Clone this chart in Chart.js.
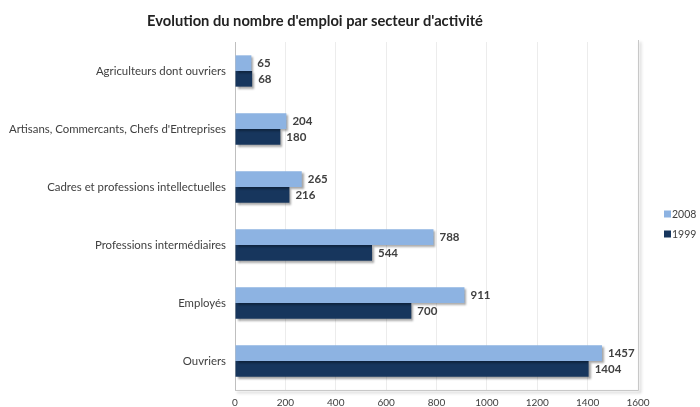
<!DOCTYPE html>
<html>
<head>
<meta charset="utf-8">
<script src="https://cdn.jsdelivr.net/npm/chart.js@4/dist/chart.umd.min.js"></script>
<style>
  html, body { margin: 0; padding: 0; background: #fff; }
  #wrap { width: 700px; height: 407px; position: relative; }
</style>
</head>
<body>
<div id="wrap"><canvas id="emploiChart"></canvas></div>
<script>
// data
const secteurs = [
    'Agriculteurs dont ouvriers',
    'Artisans, Commercants, Chefs d\'Entreprises',
    'Cadres et professions intellectuelles',
    'Professions intermédiaires',
    'Employés',
    'Ouvriers'
];
const emploi2008 = [65, 204, 265, 788, 911, 1457];
const emploi1999 = [68, 180, 216, 544, 700, 1404];
const xTicks = [0, 200, 400, 600, 800, 1000, 1200, 1400, 1600];

const titre = 'Evolution du nombre d\'emploi par secteur d\'activité';
const FONT = 'Lato, "Liberation Sans", sans-serif';
const TEXT_COL = '#404040';

// bar shadows, like the office 3D look
const barShadow = {
    id: 'barShadow',
    beforeDatasetsDraw(chart) {
        const ctx = chart.ctx;
        ctx.save();
        ctx.shadowColor = 'rgba(0,0,0,0.35)';
        ctx.shadowOffsetX = 2;
        ctx.shadowOffsetY = 2;
        ctx.shadowBlur = 2;
    },
    afterDatasetsDraw(chart) {
        chart.ctx.restore();
    }
};

// plot frame (right + bottom edge with a soft shadow)
const frame = {
    id: 'frame',
    beforeDatasetsDraw(chart) {
        const { ctx, chartArea: a } = chart;
        ctx.save();
        ctx.strokeStyle = '#c8c8c8';
        ctx.lineWidth = 1;
        ctx.shadowColor = 'rgba(0,0,0,0.3)';
        ctx.shadowOffsetX = 2;
        ctx.shadowOffsetY = 2;
        ctx.shadowBlur = 3;
        ctx.beginPath();
        ctx.moveTo(a.left, a.bottom + 0.5);
        ctx.lineTo(a.right + 0.5, a.bottom + 0.5);
        ctx.lineTo(a.right + 0.5, a.top - 2);
        ctx.stroke();
        ctx.restore();
    }
};

// value labels at the end of each bar, title and legend
const extras = {
    id: 'extras',
    afterDraw(chart) {
        const ctx = chart.ctx;
        ctx.save();
        ctx.fillStyle = TEXT_COL;
        ctx.font = 'bold 11.5px ' + FONT;
        ctx.textBaseline = 'middle';
        ctx.textAlign = 'left';
        chart.data.datasets.forEach((ds, i) => {
            chart.getDatasetMeta(i).data.forEach((bar, j) => {
                ctx.fillText(ds.data[j], bar.x + 6, bar.y);
            });
        });

        ctx.font = 'bold 14.7px ' + FONT;
        ctx.textAlign = 'center';
        ctx.fillStyle = '#222';
        ctx.fillText(titre, 315, 21);

        ctx.font = '10.5px ' + FONT;
        ctx.textAlign = 'left';
        chart.data.datasets.forEach((ds, i) => {
            const y = 214 + i * 20;
            ctx.fillStyle = ds.backgroundColor;
            ctx.fillRect(664, y - 3.5, 7, 7);
            ctx.fillStyle = TEXT_COL;
            ctx.fillText(ds.label, 672, y + 0.5);
        });
        ctx.restore();
    }
};

function loadChart() {
    const ctx = document.getElementById('emploiChart').getContext('2d');
    new Chart(ctx, {
        type: 'bar',
        data: {
            labels: secteurs,
            datasets: [{
                label: '2008',
                data: emploi2008,
                backgroundColor: '#8DB3E2'
            }, {
                label: '1999',
                data: emploi1999,
                backgroundColor: '#17365D'
            }]
        },
        options: {
            indexAxis: 'y',
            responsive: true,
            maintainAspectRatio: false,
            animation: false,
            categoryPercentage: 0.54,
            barPercentage: 1.0,
            layout: { padding: { top: 42, left: 8, right: 62, bottom: 0 } },
            plugins: {
                legend: { display: false },
                title: { display: false },
                tooltip: { enabled: false }
            },
            scales: {
                x: {
                    min: 0,
                    max: 1600,
                    afterBuildTicks(scale) {
                        scale.ticks = xTicks.map(v => ({ value: v }));
                    },
                    afterFit(scale) { scale.height = 17; },
                    grid: { color: '#ececec', drawTicks: false },
                    border: { display: false },
                    ticks: {
                        color: TEXT_COL,
                        font: { family: FONT, size: 10 },
                        padding: 7,
                        callback: v => String(v)
                    }
                },
                y: {
                    afterFit(scale) { scale.width = 227; },
                    grid: { display: false, drawTicks: false },
                    border: { display: true, color: '#bfbfbf' },
                    ticks: {
                        color: TEXT_COL,
                        font: { family: FONT, size: 11.4 },
                        padding: 9
                    }
                }
            }
        },
        plugins: [frame, barShadow, extras]
    });
}

document.addEventListener('DOMContentLoaded', loadChart);
</script>
</body>
</html>
